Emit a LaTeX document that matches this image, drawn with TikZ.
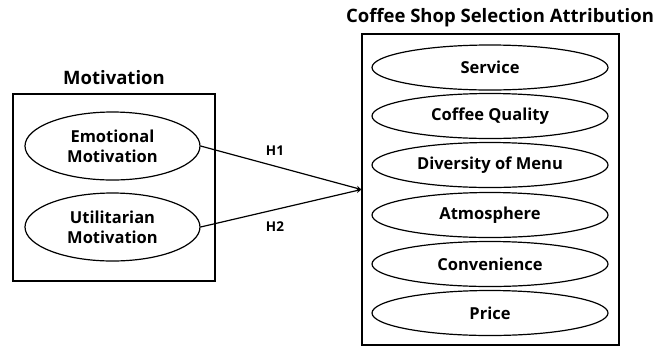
\documentclass[tikz,border=0pt]{standalone}
\usepackage{fontspec}
\setmainfont{Open Sans}
\usetikzlibrary{shapes.geometric,arrows}

\begin{document}
\begin{tikzpicture}[x=1pt, y=-1pt,
    group/.style={draw, line width=1.2pt, rectangle, inner sep=0pt},
    factor/.style={draw, line width=1.2pt, ellipse, inner sep=0pt, font=\bfseries\fontsize{16.5}{20}\selectfont, align=center},
    title/.style={font=\bfseries\fontsize{18.5}{22}\selectfont}]
    \useasboundingbox (0,0) rectangle (671,349);

    % left block
    \node [group, minimum width=202pt, minimum height=187pt] (motiv) at (114,187.5) {};
    \node [title] (motivtitle) at (114,78) {Motivation};
    \begin{scope}[every node/.style={factor, minimum width=175pt, minimum height=68pt}]
      \node (emo) at (112.5,146) {Emotional\\Motivation};
      \node (util) at (112.5,227) {Utilitarian\\Motivation};
    \end{scope}

    % right block
    \node [group, minimum width=257pt, minimum height=311pt] (attr) at (490.5,189.5) {};
    \node [title] (attrtitle) at (500,18) {Coffee Shop Selection Attribution};
    \begin{scope}[every node/.style={factor, minimum width=236pt, minimum height=45pt}]
      \node (serv) at (490,67.5) {Service};
      \node (qual) at (490,116) {Coffee Quality};
      \node (menu) at (490,165) {Diversity of Menu};
      \node (atmo) at (490,215) {Atmosphere};
      \node (conv) at (490,264) {Convenience};
      \node (price) at (490,313) {Price};
    \end{scope}

    % hypotheses
    \begin{scope}[->, >=stealth, line width=1.2pt]
      \draw (emo.east) to (attr.west);
      \draw (util.east) to (attr.west);
    \end{scope}
    \node [font=\bfseries\fontsize{13.5}{16}\selectfont] (h1) at (275,151) {H1};
    \node [font=\bfseries\fontsize{13.5}{16}\selectfont] (h2) at (275,227) {H2};
  \end{tikzpicture}
\end{document}
